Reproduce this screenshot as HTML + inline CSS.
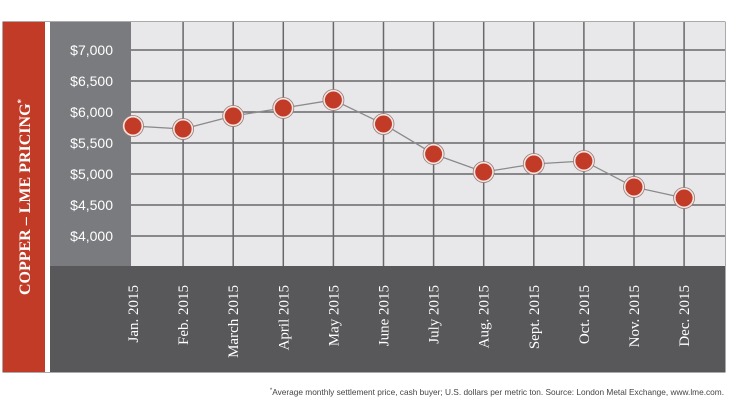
<!DOCTYPE html>
<html><head><meta charset="utf-8"><style>
html,body{margin:0;padding:0;background:#fff;width:736px;height:414px;overflow:hidden}
svg{display:block}
</style></head><body>
<svg width="736" height="414" viewBox="0 0 736 414">
<rect x="3" y="22" width="722" height="350" fill="#58585a" stroke="#555" stroke-width="1"/>
<rect x="3" y="22" width="42" height="350" fill="#c23b26"/>
<rect x="45" y="22" width="5" height="350" fill="#fff"/>
<rect x="50" y="22" width="81" height="244" fill="#7a7b7e"/>
<rect x="131" y="22" width="594" height="244" fill="#e8e8ea"/>
<text transform="translate(30,197) rotate(-90)" text-anchor="middle" fill="#fff" font-family="Liberation Serif, serif" font-weight="bold" font-size="16">COPPER – LME PRICING<tspan font-size="9" dy="-6">*</tspan></text>
<g id="grid"></g>
<g id="marks"></g>
<text x="724" y="395" text-anchor="end" fill="#444" font-family="Liberation Sans, sans-serif" font-size="8.3"><tspan font-size="6" dy="-3">*</tspan><tspan dy="3">Average monthly settlement price, cash buyer; U.S. dollars per metric ton. Source: London Metal Exchange, www.lme.com.</tspan></text>
</svg>
<script>
const months = ["Jan. 2015","Feb. 2015","March 2015","April 2015","May 2015","June 2015","July 2015","Aug. 2015","Sept. 2015","Oct. 2015","Nov. 2015","Dec. 2015"];
const prices = [5774,5726,5935,6065,6194,5806,5323,5032,5161,5210,4790,4613];
const yTicks = [7000,6500,6000,5500,5000,4500,4000];
const yTickLabels = ["$7,000","$6,500","$6,000","$5,500","$5,000","$4,500","$4,000"];
const NS="http://www.w3.org/2000/svg";
function x(i){return 133+i*50.1;}
function y(v){return 50+(7000-v)/500*31;}
const grid=document.getElementById('grid'), marks=document.getElementById('marks');
function mk(tag,attrs,parent){const e=document.createElementNS(NS,tag);for(const k in attrs)e.setAttribute(k,attrs[k]);parent.appendChild(e);return e;}
yTicks.forEach((t,i)=>{
  const l=mk('line',{x1:131,x2:725,y1:y(t),y2:y(t),stroke:'#68686a','stroke-width':1.5},grid);
  
  
  const tx=mk('text',{x:113,y:y(t)+5,'text-anchor':'end',fill:'#fff','font-family':'Liberation Sans, sans-serif','font-size':14},grid);
  tx.textContent=yTickLabels[i];
  
  
});
months.forEach((m,i)=>{
  if(i>0){
    const l=mk('line',{x1:x(i),x2:x(i),y1:22,y2:266,stroke:'#68686a','stroke-width':1.5},grid);
    
    
  }
  const tx=mk('text',{transform:`translate(${x(i)+5},285) rotate(-90)`,'text-anchor':'end',fill:'#fff','font-family':'Liberation Serif, serif','font-size':15},grid);
  tx.textContent=m;
  
  
});
const pts=prices.map((v,i)=>x(i)+','+y(v)).join(' ');
const pl=mk('polyline',{points:pts,fill:'none',stroke:'#8a8a8c','stroke-width':1.3},marks);


prices.forEach((v,i)=>{
  const h=mk('circle',{cx:x(i),cy:y(v),r:10.5,fill:'#f2e4e2',stroke:'#9a7a76','stroke-width':0.8},marks);
  
  
  const c=mk('circle',{cx:x(i),cy:y(v),r:8.5,fill:'#c23b26'},marks);
  
  
});
</script>
</body></html>
